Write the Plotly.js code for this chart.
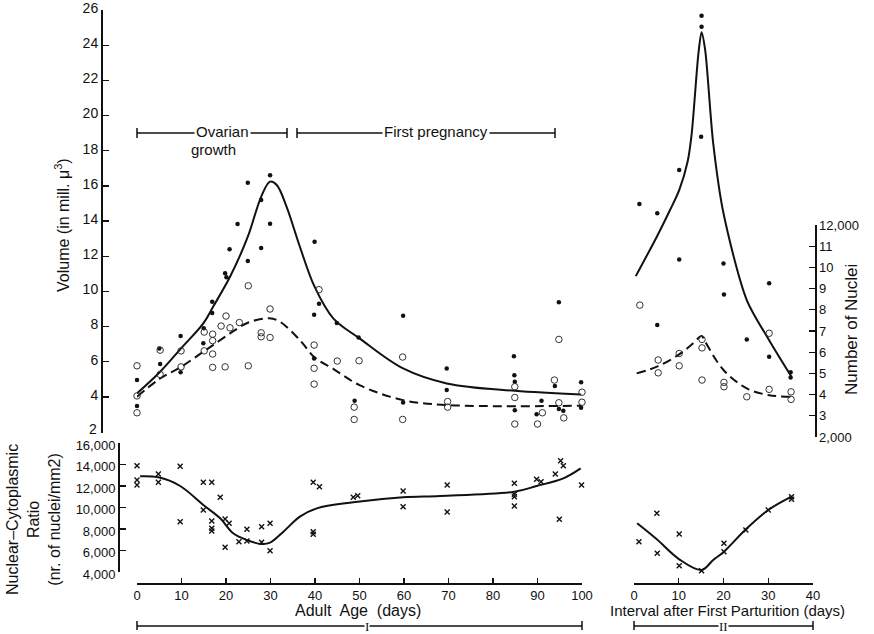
<!DOCTYPE html>
<html>
<head>
<meta charset="utf-8">
<script src="https://cdn.plot.ly/plotly-3.0.1.min.js"></script>
<style>html,body{margin:0;padding:0;background:#fff;}#chart{width:874px;height:634px;}</style>
</head>
<body>
<div id="chart"></div>
<script>
// ---------- DATA ----------
// Period I: adult age (days) – volume (filled dots)
const volDotAge = [0,0,5,5.2,9.8,9.8,14.9,15,16.9,16.9,19.8,20.1,20.8,22.6,24.9,24.9,27.9,27.9,29.9,29.9,39.9,39.8,39.8,40.9,44.9,49.8,48.9,59.8,59.8,69.6,69.6,84.7,84.8,84.9,84.9,89.8,90.9,93.9,94.8,94.8,95.8,99.8,99.8];
const volDotVal = [4.96,3.48,6.76,5.87,7.46,5.4,7.05,7.9,9.41,8.77,11.03,10.8,12.4,13.83,16.18,11.73,15.2,12.47,16.6,13.85,12.82,8.68,6.19,9.3,8.2,7.38,3.78,8.62,3.69,5.62,4.39,6.32,5.24,4.86,3.25,3.02,3.78,4.62,9.39,3.31,3.21,4.83,3.39];
// Period I: number of nuclei (open circles)
const nucCircAge = [0,0,0,5.2,5.2,9.9,9.9,15.1,15.1,17,17,17,17,18.9,20,20.9,19.8,23,25,25,27.9,27.9,29.9,29.9,39.8,39.8,39.8,40.9,45,49.9,48.8,48.8,59.7,59.7,69.8,69.8,84.9,84.9,84.9,90,91.1,93.8,94.8,94.8,95.9,100,100];
const nucCircVal = [5.77,4.06,3.1,6.66,5.28,6.62,5.71,7.69,6.62,7.57,7.2,6.44,5.68,8.03,8.6,7.93,5.71,8.23,10.32,5.77,7.65,7.42,9.0,7.38,6.95,5.63,4.73,10.1,6.04,6.06,3.42,2.72,6.27,2.72,3.74,3.42,4.58,3.97,2.46,2.46,3.1,4.96,7.27,3.67,2.81,4.27,3.7];
// Period I fitted curves
const volCurveAge = [0,5.2,9.9,14.9,17.1,20.9,24.9,27.9,29.9,31.4,33.6,36.6,39.9,44.1,50,59.8,69.6,84.9,99.8];
const volCurveVal = [4.2,5.43,6.76,8.18,9.13,10.83,13.11,15.38,16.24,16.05,14.82,12.54,10.27,8.47,7.33,5.62,4.77,4.35,4.14];
const nucCurveAge = [0,5.2,9.9,14.9,17.1,20.9,24.9,29.7,32.1,36.6,39.9,44.1,50,59.8,69.6,99.8];
const nucCurveVal = [4.01,5.05,5.71,6.57,6.95,7.61,8.22,8.47,8.28,7.23,6.25,5.6,4.67,3.82,3.54,3.5];

// Period II: interval after first parturition (days)
const volDotDay = [1.2,5.2,5.2,10.1,10.1,15.1,15.1,15.0,20,20.1,25.2,30.2,30.2,35,35];
const volDotVal2 = [14.97,14.44,8.09,16.9,11.82,25.68,25.05,18.8,11.59,9.83,7.27,10.46,6.29,5.4,5.1];
const nucCircDay = [1.3,5.4,5.4,10.1,10.1,15.2,15.2,15.2,20.1,20.1,25.2,30.2,30.2,35.1,35.1];
const nucCircVal2 = [9.22,6.1,5.37,6.47,5.77,7.27,6.79,4.96,4.83,4.58,4.01,7.62,4.43,4.29,3.86];
const volCurveDay = [0.4,5.1,8,10.1,12,12.9,14.4,15.1,15.9,17.7,20,25.2,30.2,35.1];
const volCurveVal2 = [10.87,13.11,14.6,15.76,17.4,18.99,23.54,24.73,23.73,18.42,14.44,9.51,7.23,5.19];
const nucCurveDay = [0.6,5.4,10.1,13.25,15.1,15.9,20,25.2,30.2,35.1];
const nucCurveVal2 = [5.34,5.75,6.42,7.05,7.46,7.14,5.53,4.49,4.1,4.01];

// Nuclear-cytoplasmic ratio (crosses)
const ratioAge = [0,0,0,4.8,4.8,9.7,9.7,14.9,14.9,16.8,16.8,16.8,16.8,18.7,19.8,19.8,20.7,22.9,24.7,24.7,28,28,29.9,29.9,39.6,39.6,39.6,41,48.6,49.6,59.8,59.8,69.7,69.7,84.8,84.8,84.8,84.8,89.8,90.8,94,95.2,95.8,94.9,99.9,99.9];
const ratioVal = [13888,12558,12093,13116,12344,13830,8680,12344,9767,12344,8744,8062,7814,10946,8930,6295,8527,6822,7970,6884,8217,6760,8527,5986,7752,7504,12344,11938,10946,11101,11535,10077,12093,9581,12250,11225,11008,10139,12623,12400,13116,14353,13888,8900,12093,16676];
const ratioCurveAge = [0.7,4.8,9.7,14.9,18.7,21.6,24.7,28,29.9,32.9,36.6,40.4,48.6,59.8,68.1,84.8,89.8,95.8,99.7];
const ratioCurveVal = [12900,12806,12000,10233,8993,7600,6977,6605,6729,7752,9147,9922,10481,10946,11070,11470,12000,12716,13646];
const ratioDay = [1.1,5.1,5.2,10.1,10.1,15.1,15.1,15.1,20.1,20.1,25,30,35.2,35.2];
const ratioVal2 = [6822,9457,5736,7535,4589,4124,3814,3550,6667,5890,7907,9767,11008,10760];
const ratioCurveDay = [0.7,5.1,10.1,15.1,17.7,20.1,25,30,35.2];
const ratioCurveVal2 = [8530,7042,5181,4186,5116,5890,7970,9767,11008];

// Tick labels
const volTicks = [2,4,6,8,10,12,14,16,18,20,22,24,26];
const volTickText = ["","4","6","8","10","12","14","16","18","20","22","24","26"];
const volBottomLabel = "2";
const ratioTicks = [4000,6000,8000,10000,12000,14000,16000];
const ratioTickText = ["4,000","6,000","8,000","10,000","12,000","14,000","16,000"];
const nucTicks = [2000,3000,4000,5000,6000,7000,8000,9000,10000,11000,12000];
const nucTickText = ["2,000","3","4","5","6","7","8","9","10","11","12,000"];
const ageTicks = [0,10,20,30,40,50,60,70,80,90,100];
const dayTicks = [0,10,20,30,40];

// ---------- LAYOUT HELPERS ----------
const W = 874, H = 634;
const fx = p => p / W;
const fy = p => 1 - p / H;
const FONT = "Liberation Sans, Arial, sans-serif";
const black = "#111";

const dotM = {symbol: "circle", size: 4.5, color: black};
const circM = {symbol: "circle-open", size: 6.5, color: "#333", line: {width: 1, color: "#333"}};
const crossM = {symbol: "x-thin", size: 5, color: black, line: {width: 1.4, color: black}};
const solidL = {color: black, width: 2, shape: "spline", smoothing: 1};
const dashL = {color: black, width: 2, dash: "9px,5px", shape: "spline", smoothing: 1};

const base = {type: "scatter", hoverinfo: "skip", showlegend: false, cliponaxis: false};

const traces = [
  Object.assign({}, base, {x: volCurveAge, y: volCurveVal, mode: "lines", line: solidL, xaxis: "x", yaxis: "y"}),
  Object.assign({}, base, {x: nucCurveAge, y: nucCurveVal, mode: "lines", line: dashL, xaxis: "x", yaxis: "y"}),
  Object.assign({}, base, {x: volDotAge, y: volDotVal, mode: "markers", marker: dotM, xaxis: "x", yaxis: "y"}),
  Object.assign({}, base, {x: nucCircAge, y: nucCircVal, mode: "markers", marker: circM, xaxis: "x", yaxis: "y"}),

  Object.assign({}, base, {x: volCurveDay, y: volCurveVal2, mode: "lines", line: Object.assign({}, solidL, {smoothing: 0.8}), xaxis: "x2", yaxis: "y"}),
  Object.assign({}, base, {x: nucCurveDay, y: nucCurveVal2, mode: "lines", line: dashL, xaxis: "x2", yaxis: "y"}),
  Object.assign({}, base, {x: volDotDay, y: volDotVal2, mode: "markers", marker: dotM, xaxis: "x2", yaxis: "y"}),
  Object.assign({}, base, {x: nucCircDay, y: nucCircVal2, mode: "markers", marker: circM, xaxis: "x2", yaxis: "y"}),

  Object.assign({}, base, {x: ratioCurveAge, y: ratioCurveVal, mode: "lines", line: solidL, xaxis: "x", yaxis: "y2"}),
  Object.assign({}, base, {x: ratioAge, y: ratioVal, mode: "markers", marker: crossM, xaxis: "x", yaxis: "y2"}),
  Object.assign({}, base, {x: ratioCurveDay, y: ratioCurveVal2, mode: "lines", line: solidL, xaxis: "x2", yaxis: "y2"}),
  Object.assign({}, base, {x: ratioDay, y: ratioVal2, mode: "markers", marker: crossM, xaxis: "x2", yaxis: "y2"}),

  // carrier for the right-hand "Number of Nuclei" axis
  Object.assign({}, base, {x: [5], y: [5000], mode: "markers", marker: {size: 1, opacity: 0}, xaxis: "x2", yaxis: "y3"})
];

const tickFont = {family: FONT, size: 13, color: black};
const axisCommon = {showgrid: false, zeroline: false, showline: true, linecolor: black, linewidth: 1.5,
  ticks: "inside", ticklen: 6, tickwidth: 1.3, tickcolor: black, tickfont: tickFont, fixedrange: true,
  ticklabeloverflow: "allow"};

const layout = {
  width: W, height: H,
  margin: {l: 0, r: 0, t: 0, b: 0, pad: 0},
  paper_bgcolor: "#fff", plot_bgcolor: "rgba(0,0,0,0)",
  showlegend: false, hovermode: false,
  font: {family: FONT, color: black},
  xaxis: Object.assign({}, axisCommon, {domain: [fx(137), fx(582)], range: [0, 100], anchor: "free", position: fy(583),
    tickmode: "array", tickvals: ageTicks, ticklen: 5}),
  xaxis2: Object.assign({}, axisCommon, {domain: [fx(634), fx(813)], range: [0, 40], anchor: "free", position: fy(583),
    tickmode: "array", tickvals: dayTicks, ticklen: 5}),
  yaxis: Object.assign({}, axisCommon, {domain: [fy(433), fy(10)], range: [1.95, 26], anchor: "free", position: fx(101),
    tickmode: "array", tickvals: volTicks, ticktext: volTickText, ticklabelshift: -2, tickfont: {family: FONT, size: 14, color: black}}),
  yaxis2: Object.assign({}, axisCommon, {domain: [fy(572), fy(443)], range: [4000, 16000], anchor: "free", position: fx(118),
    tickmode: "array", tickvals: ratioTicks, ticktext: ratioTickText, ticklabelshift: 2}),
  yaxis3: Object.assign({}, axisCommon, {domain: [fy(437), fy(225)], range: [2000, 12000], anchor: "free", position: fx(815),
    side: "right", tickmode: "array", tickvals: nucTicks, ticktext: nucTickText}),
  shapes: [],
  annotations: []
};

const ln = (x0, y0, x1, y1, w) => ({type: "line", xref: "paper", yref: "paper", x0: fx(x0), y0: fy(y0), x1: fx(x1), y1: fy(y1),
  line: {color: black, width: w || 1.5}});

// brackets: Ovarian growth / First pregnancy
layout.shapes.push(ln(137, 133, 287, 133), ln(137, 128, 137, 138), ln(287, 128, 287, 138));
layout.shapes.push(ln(297, 133, 555, 133), ln(297, 128, 297, 138), ln(555, 128, 555, 138));
// bottom brackets I / II
layout.shapes.push(ln(137, 626, 582, 626), ln(137, 621, 137, 630), ln(582, 621, 582, 630));
layout.shapes.push(ln(634, 626, 813, 626), ln(634, 621, 634, 630), ln(813, 621, 813, 630));

const ann = (text, x, y, size, extra) => Object.assign({text: text, xref: "paper", yref: "paper", x: fx(x), y: fy(y),
  xanchor: "center", yanchor: "middle", showarrow: false, font: {family: FONT, size: size, color: black}}, extra || {});

const serif = {family: "Liberation Serif, serif", size: 13, color: black};
layout.annotations.push(
  ann(volBottomLabel, 93, 428, 14, {height: 13}),
  ann("Ovarian", 222, 131, 15, {bgcolor: "#fff", borderpad: 1}),
  ann("growth", 213, 149, 15),
  ann("First pregnancy", 436, 131, 15, {bgcolor: "#fff", borderpad: 1}),
  ann("Volume (in mill. \u03bc<sup>3</sup>)", 62, 225, 16, {textangle: -90}),
  ann("Number of Nuclei", 851, 330, 17, {textangle: -90}),
  ann("Nuclear\u2013Cytoplasmic<br>Ratio<br>(nr. of nuclei/mm2)", 33, 520, 16, {textangle: -90}),
  ann("Adult  Age  (days)", 358, 610, 16, {height: 18}),
  ann("Interval after First Parturition (days)", 727, 610, 15, {height: 18}),
  ann("I", 367, 626, 13, {bgcolor: "#fff", borderpad: 0, height: 12, font: serif}),
  ann("II", 723, 626, 13, {bgcolor: "#fff", borderpad: 0, height: 12, font: serif})
);

Plotly.newPlot("chart", traces, layout, {staticPlot: true, displayModeBar: false});
</script>
</body>
</html>
